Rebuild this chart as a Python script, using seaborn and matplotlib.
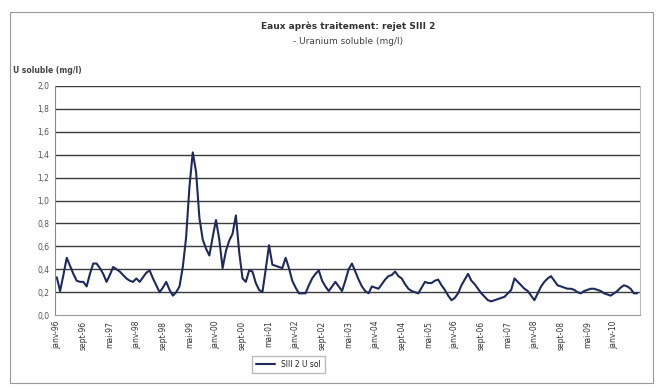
import numpy as np
import pandas as pd
import matplotlib
matplotlib.use('Agg')
import matplotlib.pyplot as plt
import seaborn as sns

#Data
uranium = [0.33, 0.21, 0.35, 0.50, 0.43, 0.36, 0.30, 0.29, 0.29, 0.25,
           0.36, 0.45, 0.45, 0.41, 0.36, 0.29, 0.35, 0.42, 0.40, 0.38,
           0.35, 0.32, 0.30, 0.29, 0.32, 0.29, 0.33, 0.37, 0.39, 0.32,
           0.26, 0.20, 0.24, 0.29, 0.22, 0.17, 0.20, 0.25, 0.42, 0.68,
           1.12, 1.42, 1.25, 0.85, 0.66, 0.58, 0.52, 0.68, 0.83, 0.66,
           0.41, 0.56, 0.65, 0.71, 0.87, 0.55, 0.32, 0.29, 0.39, 0.38,
           0.28, 0.22, 0.20, 0.40, 0.61, 0.44, 0.43, 0.42, 0.41, 0.50,
           0.41, 0.30, 0.24, 0.19, 0.19, 0.19, 0.26, 0.32, 0.36, 0.39,
           0.30, 0.25, 0.21, 0.25, 0.29, 0.25, 0.21, 0.30, 0.40, 0.45,
           0.38, 0.31, 0.25, 0.21, 0.19, 0.25, 0.24, 0.23, 0.27, 0.31,
           0.34, 0.35, 0.38, 0.34, 0.32, 0.27, 0.23, 0.21, 0.20, 0.19,
           0.24, 0.29, 0.28, 0.28, 0.30, 0.31, 0.26, 0.22, 0.17, 0.13,
           0.15, 0.19, 0.26, 0.31, 0.36, 0.30, 0.27, 0.23, 0.19, 0.16,
           0.13, 0.12, 0.13, 0.14, 0.15, 0.16, 0.19, 0.22, 0.32, 0.29,
           0.26, 0.23, 0.21, 0.17, 0.13, 0.19, 0.25, 0.29, 0.32, 0.34,
           0.30, 0.26, 0.25, 0.24, 0.23, 0.23, 0.22, 0.20, 0.19, 0.21,
           0.22, 0.23, 0.23, 0.22, 0.21, 0.19, 0.18, 0.17, 0.19, 0.21,
           0.24, 0.26, 0.25, 0.23, 0.19, 0.19]
tick_labels = ['janv-96', 'sept-96', 'mai-97', 'janv-98', 'sept-98', 'mai-99',
               'janv-00', 'sept-00', 'mai-01', 'janv-02', 'sept-02', 'mai-03',
               'janv-04', 'sept-04', 'mai-05', 'janv-06', 'sept-06', 'mai-07',
               'janv-08', 'sept-08', 'mai-09', 'janv-10']
tick_step = 8
y_ticks = [0.0, 0.2, 0.4, 0.6, 0.8, 1.0, 1.2, 1.4, 1.6, 1.8, 2.0]

df = pd.DataFrame({'mois': np.arange(len(uranium)), 'SIII 2 U sol': uranium})

#Plot
sns.set_style('white')
plt.rcParams['font.family'] = ['DejaVu Sans']
fig = plt.figure(figsize=(6.6, 3.89), dpi=100)
ax = fig.add_axes([0.083, 0.190, 0.886, 0.589])

sns.lineplot(x='mois', y='SIII 2 U sol', data=df, ax=ax, color='#1f2a5c',
             linewidth=1.5, label='SIII 2 U sol')

ax.set_xlim(-0.6, 175.7)
ax.set_ylim(0, 2.0)
ax.set_yticks(y_ticks)
ax.set_yticklabels([('%.1f' % v).replace('.', ',') for v in y_ticks],
                   fontsize=5.5, color='#555555')
ax.set_xticks(np.arange(0, len(tick_labels) * tick_step, tick_step))
ax.set_xticklabels(tick_labels, rotation=90, fontsize=5.5, color='#333333')
ax.tick_params(axis='both', length=2, width=0.6, color='#777777', pad=2)
for v in y_ticks[1:]:
    ax.axhline(v, color='#3a3a3a', linewidth=1.0, zorder=0)
ax.set_xlabel('')
ax.set_ylabel('')
ax.spines['top'].set_visible(False)
ax.spines['left'].set_color('#888888')
ax.spines['bottom'].set_color('#999999')
ax.spines['right'].set_color('#bbbbbb')

#Titles
fig.text(0.527, 0.925, 'Eaux après traitement: rejet SIII 2', ha='center',
         fontsize=6.5, fontweight='bold', color='#333333')
fig.text(0.527, 0.888, '- Uranium soluble (mg/l)', ha='center',
         fontsize=6.5, color='#444444')
fig.text(0.02, 0.812, 'U soluble (mg/l)', ha='left', fontsize=5.5,
         fontweight='bold', color='#444444')

#Legend
ax.legend(loc='center', bbox_to_anchor=(0.40, -0.215), fontsize=5.5,
          frameon=True, fancybox=False, edgecolor='#aaaaaa', handlelength=2.5,
          borderpad=0.5)

#Outer frame
frame = plt.Rectangle((0.015, 0.015), 0.975, 0.955, transform=fig.transFigure,
                      fill=False, edgecolor='#999999', linewidth=0.8)
fig.patches.append(frame)

plt.savefig('out.png', dpi=100)
